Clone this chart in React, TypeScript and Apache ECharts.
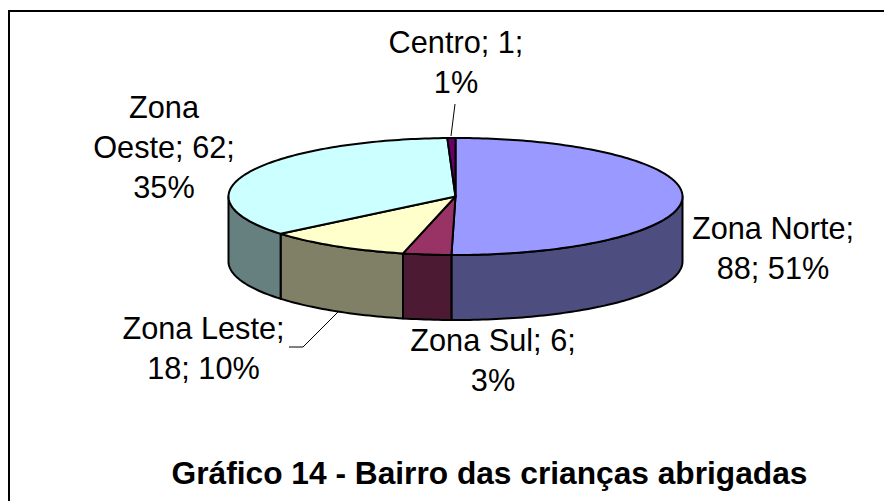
import React, { useEffect, useRef } from "react";
import * as echarts from "echarts";

const categories = ["Zona Norte", "Zona Sul", "Zona Leste", "Zona Oeste", "Centro"];
const seriesValues = [88, 6, 18, 62, 1];
const percentLabels = [51, 3, 10, 35, 1];
const titleText = "Gráfico 14 - Bairro das crianças abrigadas";

const topColors = ["#9999FF", "#993366", "#FFFFCC", "#CCFFFF", "#660066"];
const wallColors = ["#4D4D80", "#4D1A33", "#808066", "#668080", "#330033"];

const CX = 455.5, CY = 196.5, RX = 227, RY = 58.5, DEPTH = 65;
const FONT = "'Liberation Sans', Arial, sans-serif";

const labelLayout = [
  { x: 773, y: 228, lines: (n: string, v: number, p: number) => [`${n};`, `${v}; ${p}%`] },
  { x: 493, y: 340, lines: (n: string, v: number, p: number) => [`${n}; ${v};`, `${p}%`] },
  { x: 203.5, y: 328, lines: (n: string, v: number, p: number) => [`${n};`, `${v}; ${p}%`] },
  { x: 164, y: 107, lines: (n: string, v: number, p: number) => [n.split(" ")[0], `${n.split(" ")[1]}; ${v};`, `${p}%`] },
  { x: 456, y: 42, lines: (n: string, v: number, p: number) => [`${n}; ${v};`, `${p}%`] },
];
const leaders: Record<number, number[][]> = {
  2: [[338, 312], [303, 347], [289, 347]],
  4: [[455, 104], [451, 136]],
};

const total = seriesValues.reduce((a, b) => a + b, 0);
const startAngles: number[] = [];
seriesValues.reduce((acc, v, i) => {
  startAngles[i] = acc;
  return acc + (v / total) * Math.PI * 2;
}, 0);

const pt = (t: number, dy = 0) => [CX + RX * Math.sin(t), CY - RY * Math.cos(t) + dy];
const arcPts = (a: number, b: number, dy = 0) => {
  const n = Math.max(2, Math.ceil(Math.abs(b - a) / 0.02));
  const out: number[][] = [];
  for (let i = 0; i <= n; i++) out.push(pt(a + ((b - a) * i) / n, dy));
  return out;
};

const renderItem = (params: any, api: any) => {
  const i = params.dataIndex;
  const a0 = startAngles[i];
  const a1 = a0 + (api.value(1) / total) * Math.PI * 2;
  const children: any[] = [];
  const w0 = Math.max(a0, Math.PI / 2);
  const w1 = Math.min(a1, (Math.PI * 3) / 2);
  if (w1 > w0) {
    children.push({
      type: "polygon",
      shape: { points: [...arcPts(w0, w1), ...arcPts(w1, w0, DEPTH)] },
      style: { fill: wallColors[i], stroke: "#000", lineWidth: 2, lineJoin: "round" },
    });
  }
  children.push({
    type: "polygon",
    shape: { points: [[CX, CY], ...arcPts(a0, a1)] },
    style: { fill: topColors[i], stroke: "#000", lineWidth: 2, lineJoin: "round" },
  });
  if (leaders[i]) {
    children.push({
      type: "polyline",
      shape: { points: leaders[i] },
      style: { fill: "none", stroke: "#000", lineWidth: 1 },
    });
  }
  const l = labelLayout[i];
  l.lines(categories[i], api.value(1), percentLabels[i]).forEach((s: string, k: number) => {
    children.push({
      type: "text",
      style: {
        text: s,
        x: l.x,
        y: l.y + k * 40,
        align: "center",
        verticalAlign: "middle",
        font: `30.7px ${FONT}`,
        fill: "#000",
      },
    });
  });
  return { type: "group", children };
};

export default function App() {
  const ref = useRef<HTMLDivElement>(null);
  useEffect(() => {
    const chart = echarts.init(ref.current!, undefined, { renderer: "svg" });
    chart.setOption({
      animation: false,
      backgroundColor: "#fff",
      title: {
        text: titleText,
        left: 484.5,
        top: 468,
        textAlign: "center",
        textVerticalAlign: "middle",
        textStyle: { fontFamily: FONT, fontSize: 31.7, fontWeight: "bold", color: "#000" },
      },
      graphic: [
        {
          type: "polyline",
          shape: { points: [[9, 501], [9, 11], [884, 11]] },
          style: { fill: "none", stroke: "#000", lineWidth: 2 },
          z: 0,
        },
      ],
      series: [
        {
          type: "custom",
          coordinateSystem: "none",
          renderItem,
          data: categories.map((c, i) => ({ name: c, value: [i, seriesValues[i]] })),
          z: 2,
        },
      ],
    });
    return () => chart.dispose();
  }, []);
  return <div ref={ref} style={{ position: "fixed", left: 0, top: 0, width: 884, height: 501 }} />;
}
